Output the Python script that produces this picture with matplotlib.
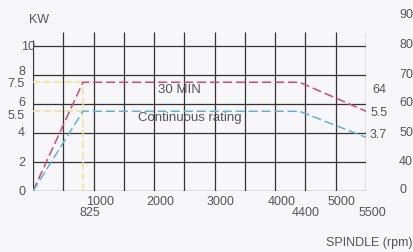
import matplotlib.pyplot as plt

# spindle output curves
rpm = [0, 825, 4400, 5500]
kw_30min = [0, 7.5, 7.5, 5.5]
kw_cont = [0, 5.5, 5.5, 3.7]

xgrid = list(range(0, 5501, 500))
ygrid = [0, 2, 4, 6, 8, 10]

xticks = [1000, 2000, 3000, 4000, 5000]
xticks_low = [825, 4400, 5500]
yticks = [10, 8, 7.5, 6, 5.5, 4, 2, 0]
ytick_pos = [10.0, 8.25, 7.45, 6.15, 5.25, 4.05, 2.0, 0.0]
torque_labels = ['90', '80', '70', '60', '50', '40', '0']
torque_pos = [12.2, 10.15, 8.1, 6.15, 4.05, 2.05, 0.15]

plt.rcParams['font.family'] = ['Liberation Sans', 'DejaVu Sans']
txt = '#555555'
fs = 9

fig = plt.figure(figsize=(4.14, 2.53), dpi=100, facecolor='#f7f7f9')
ax = fig.add_axes([33 / 414, 61 / 253, 333 / 414, 159.5 / 253])
ax.set_xlim(0, 5500)
ax.set_ylim(0, 11)
ax.axis('off')

# grid
for x in xgrid:
    ax.vlines(x, 0, 10.4 if x == 0 else 11, color='#333333', lw=0.9)
ax.hlines(ygrid, 0, 5500, color='#333333', lw=0.9)

# guide lines at the base speed
ax.hlines([7.5, 5.5], 0, 825, color='#f0e08a', lw=1.1, linestyles=(0, (5, 2)))
ax.vlines(825, 0, 7.5, color='#f0e08a', lw=1.1, linestyles=(0, (5, 2)))

ax.plot(rpm, kw_30min, color='#d8457a', lw=1.1, dashes=(6, 2.5))
ax.plot(rpm, kw_cont, color='#5ab4dc', lw=1.1, dashes=(6, 2.5))

ax.text(2065, 7.03, '30 MIN', color=txt, fontsize=9.5, va='center')
ax.text(1735, 5.1, 'Continuous rating', color=txt, fontsize=9.5, va='center')

# axis labels
for v in xticks:
    ax.text(v + 100, -0.66, str(v), color=txt, fontsize=fs, ha='center', va='center', clip_on=False)
for v in xticks_low:
    ax.text(v + 110, -1.42, str(v), color=txt, fontsize=fs, ha='center', va='center', clip_on=False)
for v, p in zip(yticks, ytick_pos):
    xr = 33 if v == 10 else -132
    ax.text(xr, p, f'{v:g}', color=txt, fontsize=fs, ha='right', va='center', clip_on=False)
ax.text(99, 11.86, 'KW', color=txt, fontsize=fs, ha='center', va='center', clip_on=False)

ax.text(5600, 7.03, '64', color=txt, fontsize=fs, va='center', clip_on=False)
ax.text(5567, 5.45, '5.5', color=txt, fontsize=fs, va='center', clip_on=False)
ax.text(5567, 3.93, '3.7', color=txt, fontsize=fs, va='center', clip_on=False)

for s, p in zip(torque_labels, torque_pos):
    ax.text(6046, p, s, color=txt, fontsize=fs, va='center', clip_on=False)

ax.text(6261, -3.52, 'SPINDLE (rpm)', color=txt, fontsize=fs, ha='right', va='center', clip_on=False)

fig.savefig('out.png', dpi=100, facecolor=fig.get_facecolor())
